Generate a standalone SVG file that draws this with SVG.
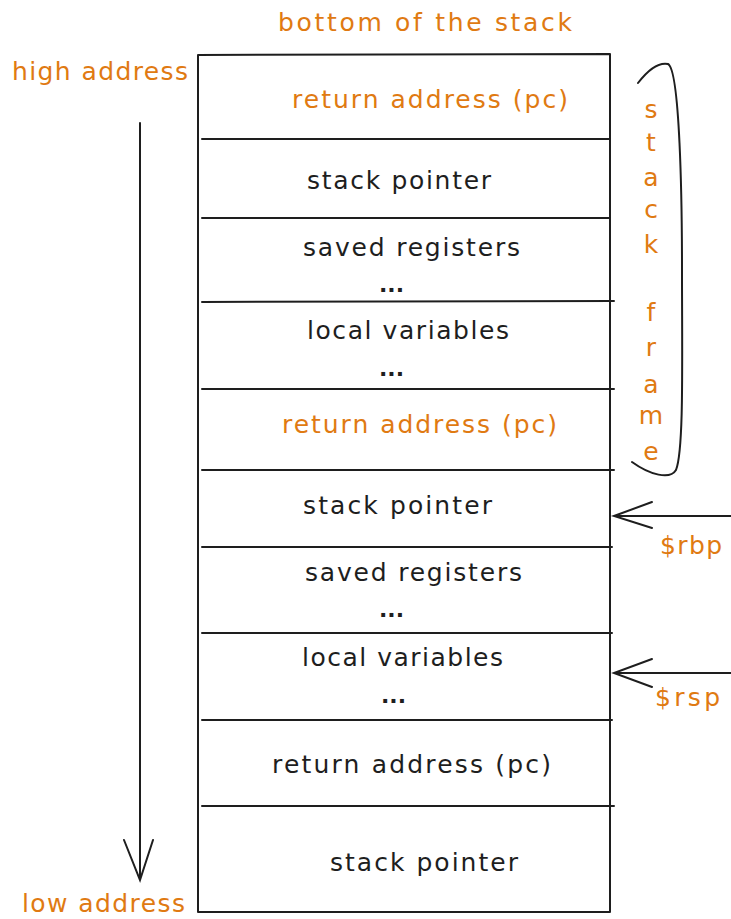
<svg xmlns="http://www.w3.org/2000/svg" width="731" height="919" viewBox="0 0 731 919">
<style>
text{font-family:"DejaVu Sans","Liberation Sans",sans-serif;font-size:25px;}
.o{fill:#e07a12;}
.k{fill:#1e1e1e;}
.ln{stroke:#1e1e1e;stroke-width:2;fill:none;stroke-linecap:round;}
.dots{font-size:22px;font-weight:bold;}
</style>
<rect width="731" height="919" fill="#ffffff"/>
<text class="o" x="278" y="31" textLength="294" lengthAdjust="spacing">bottom of the stack</text>
<text class="o" x="12" y="80" textLength="176" lengthAdjust="spacing">high address</text>
<text class="o" x="22" y="912" textLength="163" lengthAdjust="spacing">low address</text>

<g id="stack">
<path class="ln" d="M198 55 L610 54 M198 55 L198 912 M610 54 L610 912 M198 912 L610 912"/>
</g>
<g id="dividers">
<path class="ln" d="M202 139 L610 139 M202 218 L610 218 M202 302 L614 301 M202 389 L614 389 M202 470 L614 470 M202 547 L612 547 M202 633 L612 633 M202 720 L612 720 M202 806 L614 806"/>
</g>

<g id="frame1-ret"><text class="o" x="292" y="108" textLength="276" lengthAdjust="spacing">return address (pc)</text></g>
<g id="frame1-sp"><text class="k" x="307" y="189" textLength="184" lengthAdjust="spacing">stack pointer</text></g>
<g id="frame1-saved"><text class="k" x="303" y="256" textLength="217" lengthAdjust="spacing">saved registers</text><text class="k dots" x="379" y="292">...</text></g>
<g id="frame1-local"><text class="k" x="307" y="339" textLength="202" lengthAdjust="spacing">local variables</text><text class="k dots" x="379" y="376">...</text></g>
<g id="frame2-ret"><text class="o" x="282" y="433" textLength="275" lengthAdjust="spacing">return address (pc)</text></g>
<g id="frame2-sp"><text class="k" x="303" y="514" textLength="189" lengthAdjust="spacing">stack pointer</text></g>
<g id="frame2-saved"><text class="k" x="305" y="581" textLength="217" lengthAdjust="spacing">saved registers</text><text class="k dots" x="379" y="617">...</text></g>
<g id="frame2-local"><text class="k" x="302" y="666" textLength="201" lengthAdjust="spacing">local variables</text><text class="k dots" x="381" y="703">...</text></g>
<g id="frame3-ret"><text class="k" x="272" y="773" textLength="279" lengthAdjust="spacing">return address (pc)</text></g>
<g id="frame3-sp"><text class="k" x="330" y="871" textLength="188" lengthAdjust="spacing">stack pointer</text></g>

<g id="stack-frame-label">
<path class="ln" d="M638 83 C648 70 658 62 668 64 C680 70 682 200 682 270 C682 360 684 450 676 470 C670 480 650 475 632 462"/>
<g class="o" text-anchor="middle">
<text x="651" y="118">s</text>
<text x="651" y="151">t</text>
<text x="651" y="186">a</text>
<text x="651" y="218">c</text>
<text x="651" y="253">k</text>
<text x="651" y="321">f</text>
<text x="651" y="356">r</text>
<text x="651" y="393">a</text>
<text x="651" y="424">m</text>
<text x="651" y="460">e</text>
</g>
</g>

<g id="connectors">
<path class="ln" d="M140 123 L140 880 M124 840 L140 880 L153 840"/>
<path class="ln" d="M731 516 L614 516 M652 502 L614 516 L652 528"/>
<path class="ln" d="M731 673 L614 673 M652 659 L614 673 L652 687"/>
</g>
<g id="rbp"><text class="o" x="660" y="554" textLength="62" lengthAdjust="spacing">$rbp</text></g>
<g id="rsp"><text class="o" x="655" y="706" textLength="65" lengthAdjust="spacing">$rsp</text></g>
</svg>
